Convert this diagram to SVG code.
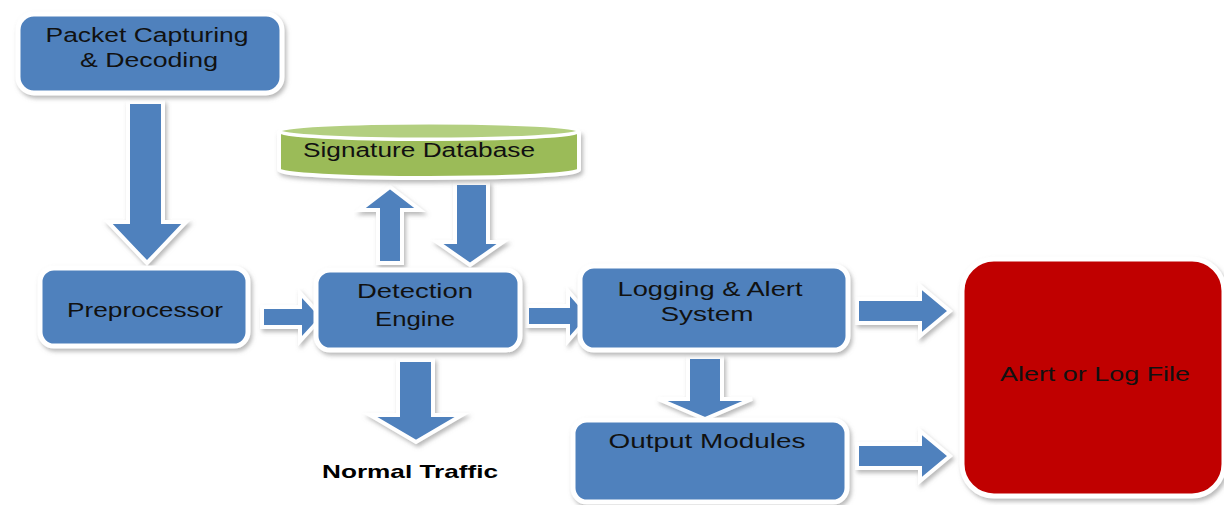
<svg xmlns="http://www.w3.org/2000/svg" width="1224" height="505" viewBox="0 0 1224 505">
<defs>
<filter id="sh" x="-10%" y="-10%" width="130%" height="140%">
<feDropShadow dx="2" dy="3" stdDeviation="2" flood-color="#808080" flood-opacity="0.55"/>
</filter>
</defs>
<style>
.box{fill:#4F81BD;stroke:#FFFFFF;stroke-width:5;filter:url(#sh)}
.red{fill:#C00000;stroke:#FFFFFF;stroke-width:5;filter:url(#sh)}
.arr{fill:#4F81BD;stroke:#FFFFFF;stroke-width:4;stroke-linejoin:miter;filter:url(#sh)}
.t{font-family:"Liberation Sans",Arial,sans-serif;font-size:20px;fill:#111111;text-anchor:middle}
.b{font-family:"Liberation Sans",Arial,sans-serif;font-size:19px;font-weight:bold;fill:#000000;text-anchor:middle}
</style>
<rect width="1224" height="505" fill="#FFFFFF"/>
<g id="connectors">
<path class="arr" d="M128,102 H163 V222 H186 L147,263 L108,222 H128 Z"/>
<path class="arr" d="M378,263 V210 H360 L390,187 L420,210 H402 V263 Z"/>
<path class="arr" d="M455,183 H488 V242 H503 L470,265 L437,242 H455 Z"/>
<path class="arr" d="M262,307 H300 V293 L322,317 L300,341 V327 H262 Z"/>
<path class="arr" d="M527,306 H568 V291 L590,316 L568,341 V326 H527 Z"/>
<path class="arr" d="M857,299 H920 V286 L950,311 L920,336 V323 H857 Z"/>
<path class="arr" d="M857,444 H920 V431 L950,456 L920,481 V468 H857 Z"/>
<path class="arr" d="M688,357 H722 V399 H752 L705,419 L658,399 H688 Z"/>
<path class="arr" d="M398,360 H433 V415 H462 L416,442 L370,415 H398 Z"/>
</g>
<g id="packet">
<rect class="box" x="18" y="14" width="264" height="79" rx="16"/>
<text class="t" x="147" y="42" textLength="203" lengthAdjust="spacingAndGlyphs">Packet Capturing</text>
<text class="t" x="149" y="67" textLength="138" lengthAdjust="spacingAndGlyphs">&amp; Decoding</text>
</g>
<g id="database">
<path d="M279,131 A150,8 0 0 0 579,131 V170 A150,8 0 0 1 279,170 Z" fill="#9BBB59" stroke="#FFFFFF" stroke-width="4" filter="url(#sh)"/>
<ellipse cx="429" cy="131" rx="150" ry="8" fill="#B3CF80" stroke="#FFFFFF" stroke-width="3"/>
<text class="t" x="419" y="157" textLength="232" lengthAdjust="spacingAndGlyphs">Signature Database</text>
</g>
<g id="preprocessor">
<rect class="box" x="40" y="268" width="208" height="78" rx="14"/>
<text class="t" x="145" y="317" textLength="156" lengthAdjust="spacingAndGlyphs">Preprocessor</text>
</g>
<g id="detection">
<rect class="box" x="316" y="270" width="204" height="80" rx="14"/>
<text class="t" x="415" y="298" textLength="116" lengthAdjust="spacingAndGlyphs">Detection</text>
<text class="t" x="415" y="326" textLength="80" lengthAdjust="spacingAndGlyphs">Engine</text>
</g>
<g id="logging">
<rect class="box" x="580" y="266" width="268" height="84" rx="14"/>
<text class="t" x="710" y="296" textLength="185" lengthAdjust="spacingAndGlyphs">Logging &amp; Alert</text>
<text class="t" x="707" y="321" textLength="93" lengthAdjust="spacingAndGlyphs">System</text>
</g>
<g id="output">
<rect class="box" x="573" y="420" width="274" height="82" rx="14"/>
<text class="t" x="707" y="448" textLength="197" lengthAdjust="spacingAndGlyphs">Output Modules</text>
</g>
<g id="alertfile">
<rect class="red" x="962" y="259" width="262" height="237" rx="32"/>
<text class="t" x="1095" y="381" textLength="190" lengthAdjust="spacingAndGlyphs">Alert or Log File</text>
</g>
<g id="normal">
<text class="b" x="410" y="478" textLength="176" lengthAdjust="spacingAndGlyphs">Normal Traffic</text>
</g>
</svg>
